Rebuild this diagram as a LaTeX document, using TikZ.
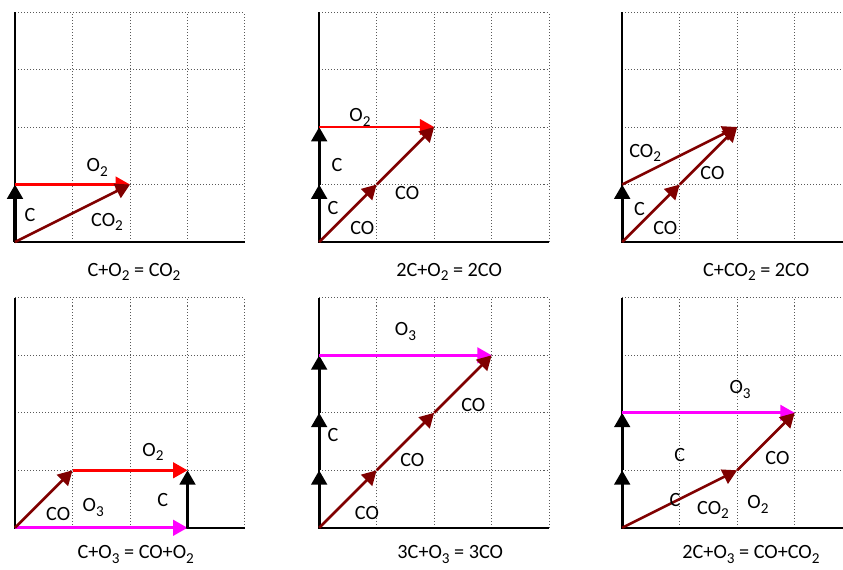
\documentclass[tikz,border=0pt]{standalone}
\usepackage{fontspec}
\setmainfont{Carlito}
\usetikzlibrary{arrows.meta}
\definecolor{maroon}{RGB}{128,0,0}
\definecolor{hotred}{RGB}{255,0,0}
\definecolor{magen}{RGB}{255,0,255}
\tikzset{
  >={Triangle[length=2.5mm,width=2.7mm]},
  cell/.style={draw=gray!70!black,densely dotted,line width=0.5pt},
  axis/.style={draw=black,line width=0.9pt},
  carbon/.style={->,draw=black,line width=1.6pt},
  oxy/.style={->,draw=#1,line width=1.3pt},
  oxy/.default=hotred,
  oxide/.style={->,draw=maroon,line width=1.3pt},
  lbl/.style={font=\fontsize{10}{12}\selectfont,inner sep=1pt},
  eqn/.style={font=\fontsize{10}{12}\selectfont,inner sep=1pt},
}
\newcommand{\sub}[1]{\raisebox{-0.5ex}{\fontsize{7.5}{8}\selectfont #1}}

\begin{document}
\begin{tikzpicture}
  \useasboundingbox (-0.261,-5.687) rectangle (14.40,4.209);
  % grids
  \foreach \gx/\gy in {0/0,5.29/0,10.56/0,0/-4.97,5.29/-4.97,10.56/-4.97} {
    \begin{scope}[shift={(\gx,\gy)}]
      \draw[cell] (0,0) grid (4,4);
      \draw[axis] (0,4) -- (0,0) -- (4,0);
    \end{scope}
  }

  % C + O2 = CO2
  \begin{scope}[shift={(0,0)}]
    \coordinate (a0) at (0,0);
    \coordinate (a1) at (0,1);
    \coordinate (a2) at (2,1);
    \draw[carbon] (a0) -- (a1);
    \draw[oxy] (a1) -- (a2);
    \draw[oxide] (a0) -- (a2);
    \node[lbl] (a-c) at (0.26,0.47) {C};
    \node[lbl] (a-o) at (1.43,1.30) {O\sub{2}};
    \node[lbl] (a-co2) at (1.60,0.35) {CO\sub{2}};
    \node[eqn] (a-eq) at (2.07,-0.52) {C+O\sub{2} = CO\sub{2}};
  \end{scope}

  % 2C + O2 = 2CO
  \begin{scope}[shift={(5.29,0)}]
    \coordinate (b0) at (0,0);
    \coordinate (b1) at (0,1);
    \coordinate (b2) at (0,2);
    \coordinate (b3) at (1,1);
    \coordinate (b4) at (2,2);
    \draw[carbon] (b0) -- (b1);
    \draw[carbon] (b1) -- (b2);
    \draw[oxy] (b2) -- (b4);
    \draw[oxide] (b0) -- (b3);
    \draw[oxide] (b3) -- (b4);
    \node[lbl] (b-o) at (0.71,2.16) {O\sub{2}};
    \node[lbl] (b-c2) at (0.31,1.34) {C};
    \node[lbl] (b-c1) at (0.24,0.59) {C};
    \node[lbl] (b-co1) at (0.75,0.24) {CO};
    \node[lbl] (b-co2) at (1.53,0.85) {CO};
    \node[eqn] (b-eq) at (2.26,-0.52) {2C+O\sub{2} = 2CO};
  \end{scope}

  % C + CO2 = 2CO
  \begin{scope}[shift={(10.56,0)}]
    \coordinate (c0) at (0,0);
    \coordinate (c1) at (0,1);
    \coordinate (c2) at (1,1);
    \coordinate (c3) at (2,2);
    \draw[carbon] (c0) -- (c1);
    \draw[oxide] (c1) -- (c3);
    \draw[oxide] (c0) -- (c2);
    \draw[oxide] (c2) -- (c3);
    \node[lbl] (c-co2) at (0.40,1.55) {CO\sub{2}};
    \node[lbl] (c-co2b) at (1.57,1.20) {CO};
    \node[lbl] (c-c) at (0.30,0.57) {C};
    \node[lbl] (c-co1) at (0.75,0.24) {CO};
    \node[eqn] (c-eq) at (2.33,-0.52) {C+CO\sub{2} = 2CO};
  \end{scope}

  % C + O3 = CO + O2
  \begin{scope}[shift={(0,-4.97)}]
    \coordinate (d0) at (0,0);
    \coordinate (d1) at (1,1);
    \coordinate (d2) at (3,1);
    \coordinate (d3) at (3,0);
    \draw[oxy=magen] (d0) -- (d3);
    \draw[oxide] (d0) -- (d1);
    \draw[oxy] (d1) -- (d2);
    \draw[carbon] (d3) -- (d2);
    \node[lbl] (d-o2) at (2.40,1.32) {O\sub{2}};
    \node[lbl] (d-c) at (2.57,0.49) {C};
    \node[lbl] (d-co) at (0.75,0.24) {CO};
    \node[lbl] (d-o3) at (1.36,0.35) {O\sub{3}};
    \node[eqn] (d-eq) at (2.10,-0.47) {C+O\sub{3} = CO+O\sub{2}};
  \end{scope}

  % 3C + O3 = 3CO
  \begin{scope}[shift={(5.29,-4.97)}]
    \coordinate (e0) at (0,0);
    \coordinate (e1) at (0,1);
    \coordinate (e2) at (0,2);
    \coordinate (e3) at (0,3);
    \coordinate (e4) at (1,1);
    \coordinate (e5) at (2,2);
    \coordinate (e6) at (3,3);
    \draw[carbon] (e0) -- (e1);
    \draw[carbon] (e1) -- (e2);
    \draw[carbon] (e2) -- (e3);
    \draw[oxy=magen] (e3) -- (e6);
    \draw[oxide] (e0) -- (e4);
    \draw[oxide] (e4) -- (e5);
    \draw[oxide] (e5) -- (e6);
    \node[lbl] (e-o3) at (1.50,3.41) {O\sub{3}};
    \node[lbl] (e-c) at (0.24,1.62) {C};
    \node[lbl] (e-co3) at (2.68,2.14) {CO};
    \node[lbl] (e-co2) at (1.62,1.18) {CO};
    \node[lbl] (e-co1) at (0.83,0.26) {CO};
    \node[eqn] (e-eq) at (2.28,-0.47) {3C+O\sub{3} = 3CO};
  \end{scope}

  % 2C + O3 = CO + CO2
  \begin{scope}[shift={(10.56,-4.97)}]
    \coordinate (f0) at (0,0);
    \coordinate (f1) at (0,1);
    \coordinate (f2) at (0,2);
    \coordinate (f3) at (2,1);
    \coordinate (f4) at (3,2);
    \draw[carbon] (f0) -- (f1);
    \draw[carbon] (f1) -- (f2);
    \draw[oxy=magen] (f2) -- (f4);
    \draw[oxide] (f0) -- (f3);
    \draw[oxide] (f3) -- (f4);
    \node[lbl] (f-o3) at (2.05,2.40) {O\sub{3}};
    \node[lbl] (f-c2) at (1.00,1.27) {C};
    \node[lbl] (f-c1) at (0.92,0.49) {C};
    \node[lbl] (f-co2) at (1.58,0.31) {CO\sub{2}};
    \node[lbl] (f-o2) at (2.36,0.40) {O\sub{2}};
    \node[lbl] (f-co) at (2.70,1.22) {CO};
    \node[eqn] (f-eq) at (2.24,-0.47) {2C+O\sub{3} = CO+CO\sub{2}};
  \end{scope}
\end{tikzpicture}
\end{document}
